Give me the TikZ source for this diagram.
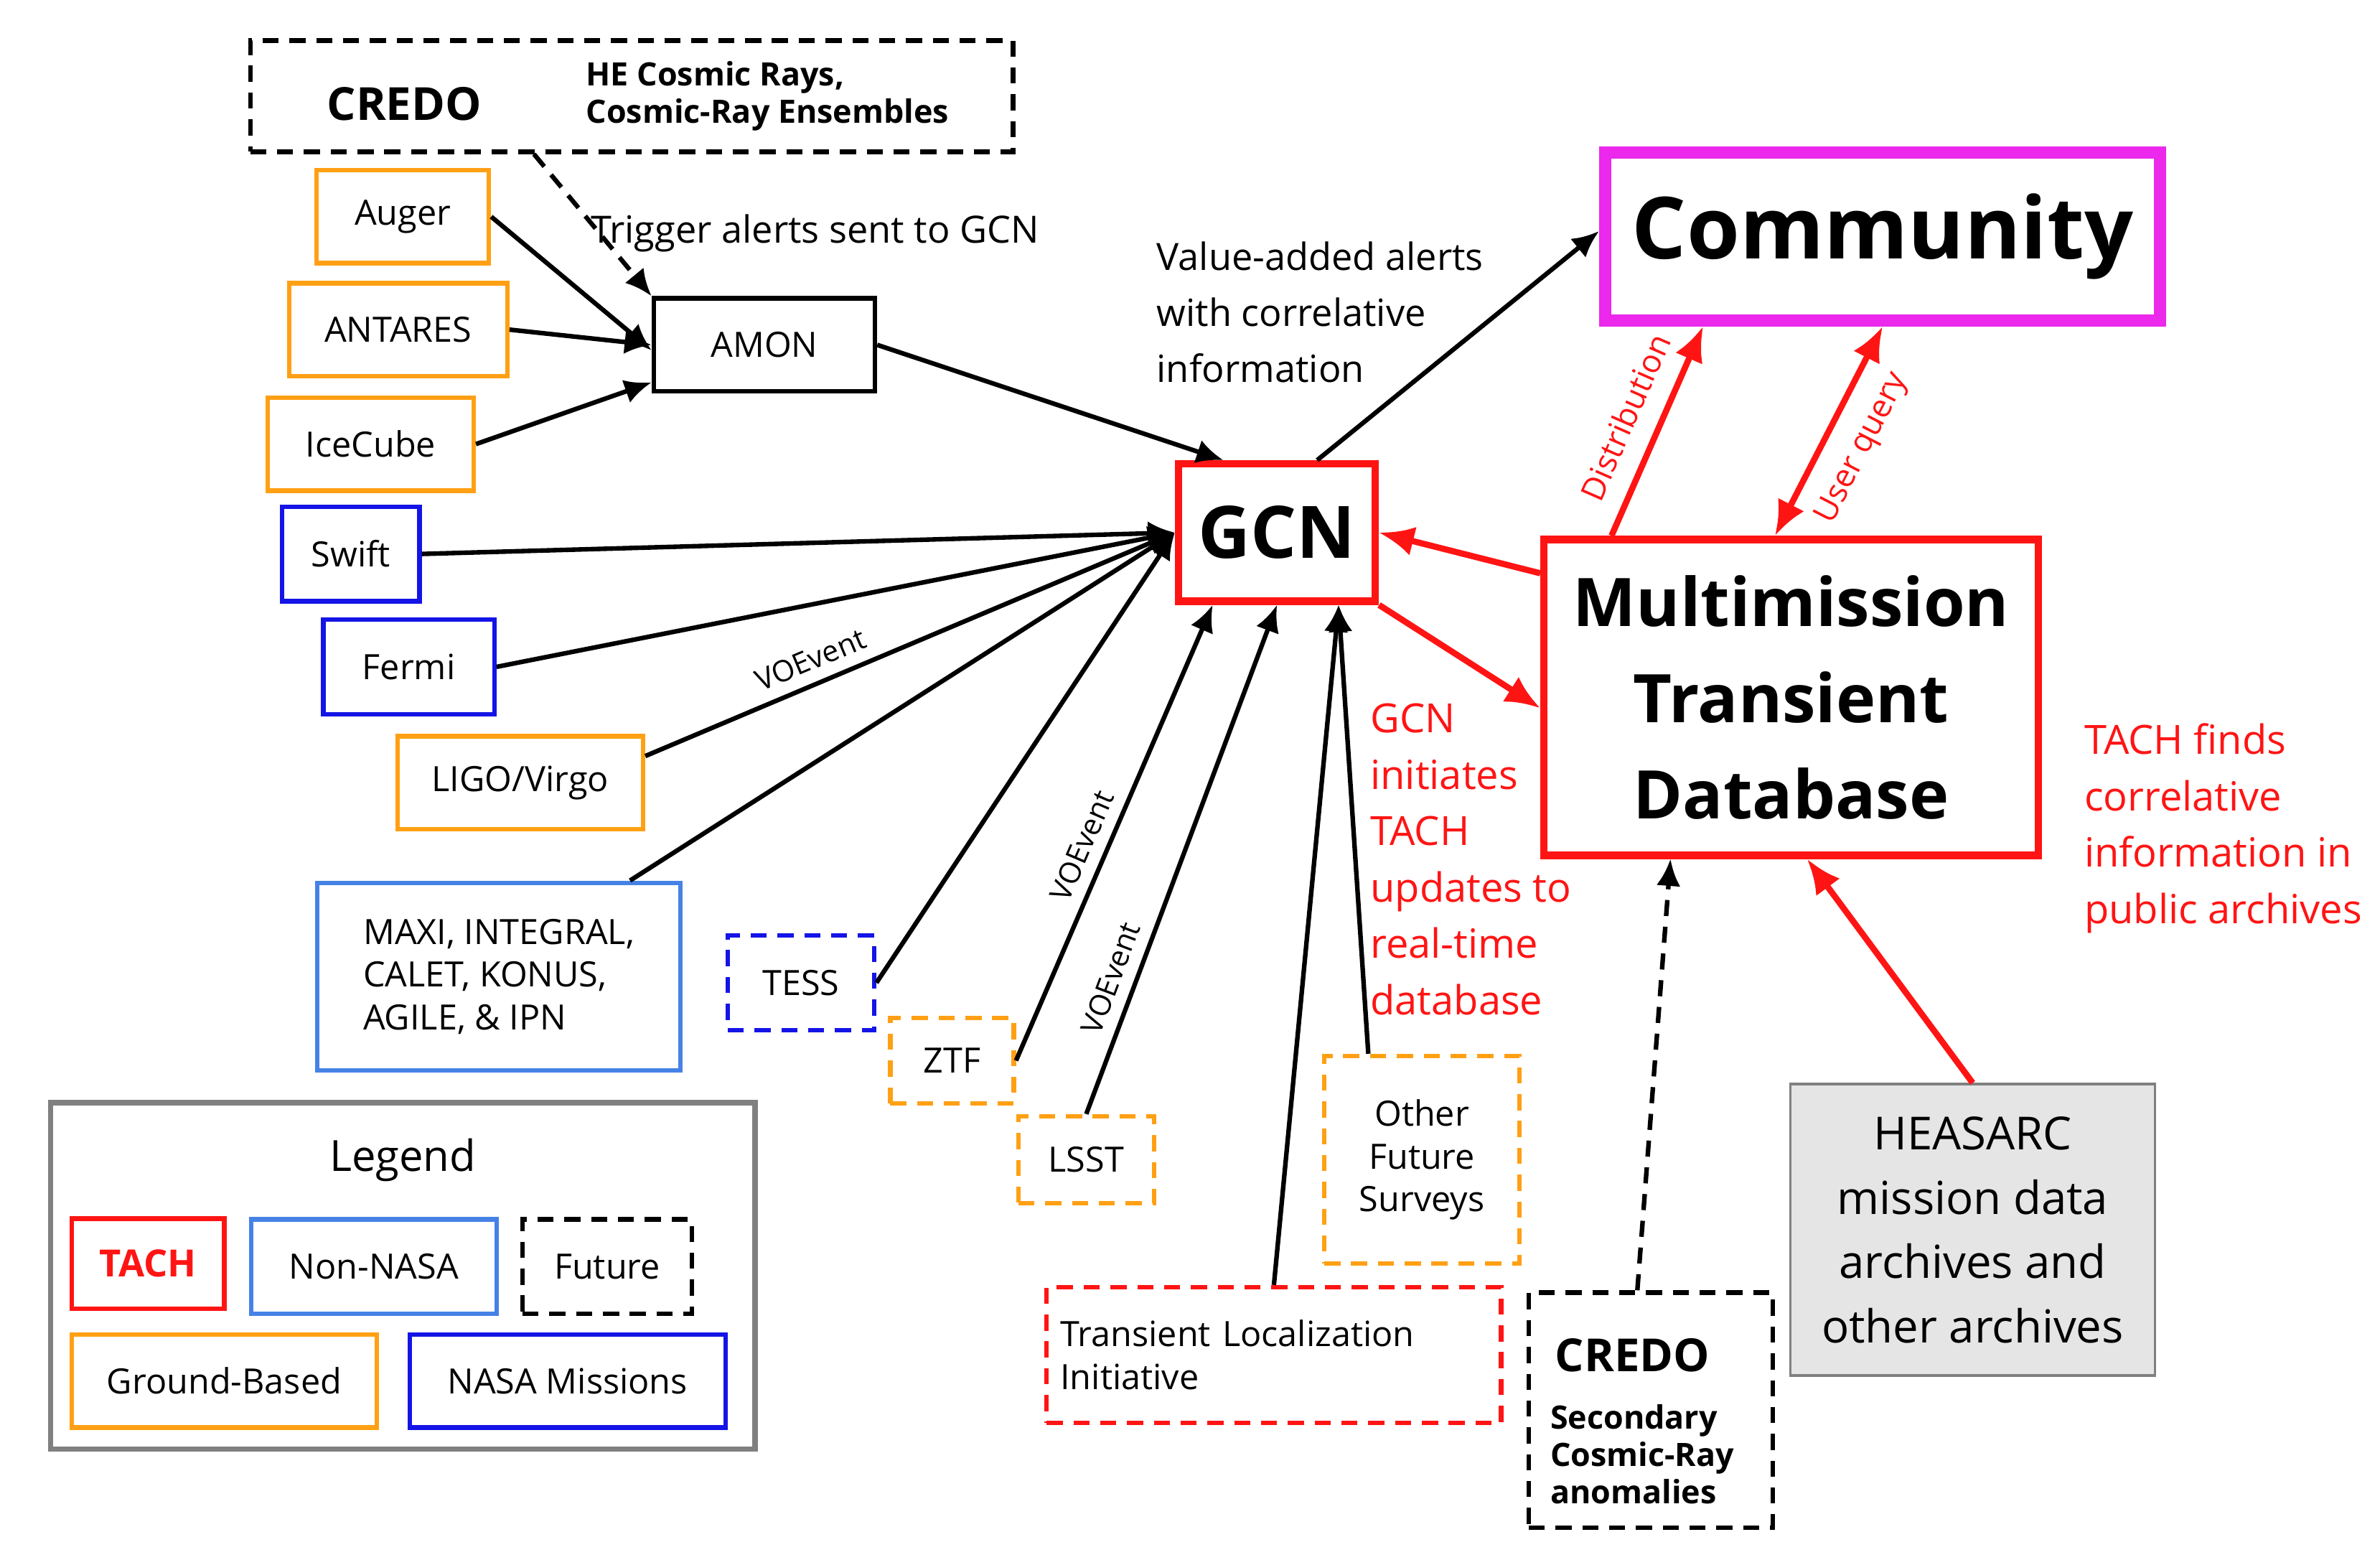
\documentclass[tikz,border=0pt]{standalone}
\usepackage{fontspec}
\setmainfont{Open Sans}
\usetikzlibrary{positioning,arrows.meta}
\definecolor{gorange}{RGB}{255,160,20}
\definecolor{nblue}{RGB}{20,20,230}
\definecolor{lblue}{RGB}{70,130,230}
\definecolor{tred}{RGB}{255,20,20}
\definecolor{cmag}{RGB}{235,40,235}
\begin{document}
\begin{tikzpicture}[
  x=0.02cm, y=-0.02cm,
  box/.style={draw,line width=1.7pt,minimum width=#1,inner sep=0pt,align=center,font=\fontsize{13}{16}\selectfont},
  ground/.style={box=#1,draw=gorange,minimum height=1.22cm},
  nasa/.style={box=#1,draw=nblue,minimum height=1.24cm},
  future/.style={dashed,dash pattern=on 6pt off 4pt},
  arr/.style={line width=1.7pt,-{Latex[length=10pt,width=9pt]}},
  rarr/.style={line width=2.3pt,draw=tred,-{Latex[length=13pt,width=11pt]}},
  vo/.style={font=\fontsize{11}{13}\selectfont,sloped,above=1pt}
]
\useasboundingbox (0,0) rectangle (1560,1022);
% sources
\node[box=10cm,minimum height=1.46cm,future] (credoA) at (414,63) {};
\node[font=\fontsize{17}{20}\bfseries\selectfont] (credoAlogo) at (265,68) {CREDO};
\node[font=\fontsize{12}{14}\bfseries\selectfont,align=left,anchor=west] (credoAtxt) at (378,63) {HE Cosmic Rays,\\Cosmic-Ray Ensembles};
\node[ground=2.26cm] (auger) at (264,142) {Auger};
\node[ground=2.86cm] (antares) at (261,216) {ANTARES};
\node[ground=2.7cm] (icecube) at (243,291) {IceCube};
\node[nasa=1.8cm] (swift) at (230,363) {Swift};
\node[nasa=2.24cm] (fermi) at (268,437) {Fermi};
\node[ground=3.22cm] (ligo) at (341,513) {LIGO/Virgo};
\node[box=4.76cm,draw=lblue,minimum height=2.46cm,align=left] (maxi) at (327,640) {MAXI, INTEGRAL,\\CALET, KONUS,\\AGILE, \& IPN};
\node[box=1.92cm,draw=nblue,minimum height=1.24cm,future] (tess) at (525,644) {TESS};
\node[box=1.62cm,draw=gorange,minimum height=1.12cm,future] (ztf) at (624,695) {ZTF};
\node[box=1.78cm,draw=gorange,minimum height=1.14cm,future] (lsst) at (712,760) {LSST};
\node[box=2.9cm,draw=black,minimum height=1.22cm] (amon) at (501,226) {AMON};
\node[box=2.58cm,draw=tred,line width=2.8pt,minimum height=1.8cm,font=\fontsize{27}{30}\bfseries\selectfont] (gcn) at (837,349) {GCN};
\node[box=7.28cm,draw=cmag,line width=4.5pt,minimum height=2.2cm,font=\fontsize{32}{36}\bfseries\selectfont] (comm) at (1234,155) {Community};
\node[box=6.48cm,draw=tred,line width=2.8pt,minimum height=4.14cm,font=\fontsize{25}{36}\bfseries\selectfont] (mtd) at (1174,457) {Multimission\\Transient\\Database};
\node[box=4.78cm,draw=gray,fill=gray!20,line width=1pt,minimum height=3.82cm,font=\fontsize{17}{24}\selectfont] (heasarc) at (1293,806) {HEASARC\\mission data\\archives and\\other archives};
\node[box=2.56cm,draw=gorange,minimum height=2.72cm,future] (other) at (932,760) {Other\\Future\\Surveys};
\node[box=5.96cm,draw=tred,minimum height=1.78cm,future,align=left,text width=5.6cm] (tli) at (835,888) {Transient Localization\\Initiative};
\node[box=3.2cm,draw=black,minimum height=3.08cm,future] (credoB) at (1082,924) {};
\node[font=\fontsize{17}{20}\bfseries\selectfont] (credoBlogo) at (1070,888) {CREDO};
\node[font=\fontsize{12}{14}\bfseries\selectfont,align=left,anchor=north west] (credoBtxt) at (1010,914) {Secondary\\Cosmic-Ray\\anomalies};
% legend
\node[box=9.24cm,draw=gray,line width=2pt,minimum height=4.54cm] (legend) at (264,836) {};
\node[font=\fontsize{16}{19}\selectfont] (legtitle) at (264,760) {Legend};
\node[box=2cm,draw=tred,minimum height=1.18cm,text=tred,font=\fontsize{14}{16}\bfseries\selectfont] (legtach) at (97,828) {TACH};
\node[box=3.22cm,draw=lblue,minimum height=1.24cm] (legnon) at (245,830) {Non-NASA};
\node[box=2.22cm,draw=black,minimum height=1.24cm,future] (legfut) at (398,830) {Future};
\node[ground=4cm,minimum height=1.22cm] (legground) at (147,905) {Ground-Based};
\node[nasa=4.14cm,minimum height=1.22cm] (legnasa) at (372,905) {NASA Missions};
% texts
\node[font=\fontsize{14}{17}\selectfont,anchor=west] (trig) at (381,153) {Trigger alerts sent to GCN};
\node[font=\fontsize{14}{21}\selectfont,align=left,anchor=north west] (vadd) at (752,152) {Value-added alerts\\with correlative\\information};
\node[font=\fontsize{15}{21}\selectfont,text=tred,align=left,anchor=north west] (tupd) at (892,455) {GCN\\initiates\\TACH\\updates to\\real-time\\database};
\node[font=\fontsize{15}{21}\selectfont,text=tred,align=left,anchor=north west] (tfind) at (1360,468) {TACH finds\\correlative\\information in\\public archives};
% connectors
\draw[arr,future] (credoA.south -| 350,0) -- (amon.north west);
\draw[arr] (auger.east) -- ([yshift=-2pt]amon.west);
\draw[arr] (antares.east) -- (amon.west);
\draw[arr] (icecube.east) -- ([yshift=-14pt]amon.west);
\draw[arr] (amon.east) -- ([xshift=-20pt]gcn.north);
\draw[arr] (swift.east) -- (gcn.west);
\draw[arr] (fermi.east) -- (gcn.west);
\draw[arr] ([yshift=10pt]ligo.east) -- node[vo,pos=0.33]{VOEvent} (gcn.west);
\draw[arr] ([xshift=1.72cm]maxi.north) -- (gcn.west);
\draw[arr] (tess.east) -- (gcn.west);
\draw[arr] (ztf.east) -- node[vo,pos=0.45]{VOEvent} ([xshift=-24pt]gcn.south);
\draw[arr] (lsst.north) -- node[vo,pos=0.25]{VOEvent} (gcn.south);
\draw[arr] (tli.north) -- ([xshift=23pt]gcn.south);
\draw[arr] ([xshift=-20pt]other.north) -- ([xshift=23pt]gcn.south);
\draw[arr] ([xshift=15pt]gcn.north) -- ([yshift=2pt]comm.west);
\draw[rarr] ([yshift=-14pt]mtd.north west) -- (gcn.east);
\draw[rarr] (gcn.south east) -- ([yshift=-4pt]mtd.west);
\draw[rarr] ([xshift=-67pt]mtd.north) -- node[font=\fontsize{12}{14}\selectfont,text=tred,sloped,above=4pt]{Distribution} ([xshift=-67pt]comm.south);
\draw[rarr,{Latex[length=13pt,width=11pt]}-{Latex[length=13pt,width=11pt]}] ([xshift=-6pt]mtd.north) -- node[font=\fontsize{12}{14}\selectfont,text=tred,sloped,below=4pt]{User query} ([xshift=0pt]comm.south);
\draw[rarr] (heasarc.north) -- ([xshift=6pt]mtd.south);
\draw[arr,future] ([xshift=-5pt]credoB.north) -- ([xshift=-45pt]mtd.south);
\end{tikzpicture}
\end{document}
